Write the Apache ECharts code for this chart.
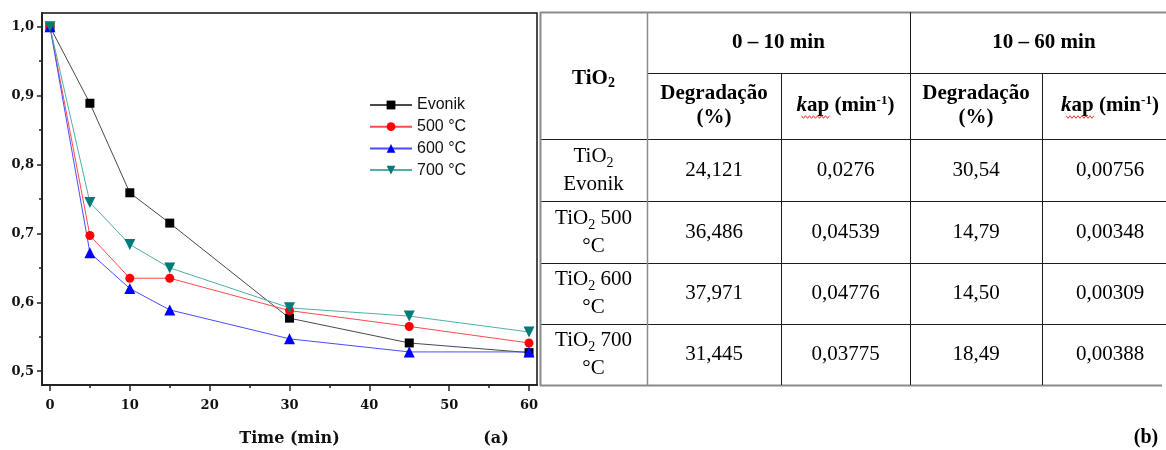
<!DOCTYPE html>
<html>
<head>
<meta charset="utf-8">
<script src="https://cdn.jsdelivr.net/npm/echarts@6/dist/echarts.min.js"></script>
<style>
  html, body { margin: 0; padding: 0; background: #fff; }
  #main { width: 1166px; height: 450px; }
</style>
</head>
<body>
<div id="main"></div>
<script>
// ---- kinetic curves: normalised concentration C/C0 versus irradiation time ----
const timeMin = [0, 5, 10, 15, 30, 45, 60];
const seriesNames = ['Evonik', '500 °C', '600 °C', '700 °C'];
const evonik = [1.000, 0.889, 0.759, 0.715, 0.577, 0.541, 0.527];
const t500   = [1.000, 0.697, 0.635, 0.635, 0.588, 0.565, 0.541];
const t600   = [1.000, 0.672, 0.620, 0.589, 0.547, 0.528, 0.528];
const t700   = [1.000, 0.745, 0.684, 0.650, 0.592, 0.580, 0.557];

const xTickLabels = [0, 10, 20, 30, 40, 50, 60];
const xMinorTicks = [5, 15, 25, 35, 45, 55];
const yTickLabels = [0.5, 0.6, 0.7, 0.8, 0.9, 1.0];
const yMinorTicks = [0.55, 0.65, 0.75, 0.85, 0.95];

// ---- kinetic parameters table ----
const periodHeaders = ['0 – 10 min', '10 – 60 min'];
const rowTail   = ['', ' 500', ' 600', ' 700'];
const rowSecond = ['Evonik', '°C', '°C', '°C'];
const degr010   = ['24,121', '36,486', '37,971', '31,445'];
const kap010    = ['0,0276', '0,04539', '0,04776', '0,03775'];
const degr1060  = ['30,54', '14,79', '14,50', '18,49'];
const kap1060   = ['0,00756', '0,00348', '0,00309', '0,00388'];

// table grid layout (pixels)
const colX = [540, 647, 781, 910, 1042, 1178];
const rowY = [12, 73, 139, 201, 263, 324, 385];
const tableRightVisible = 1166;

const serif = 'Liberation Serif';
const axisFont = { fontFamily: 'DejaVu Serif', fontWeight: 'bold', fontSize: 13, color: '#111' };

const richStyles = {
  h:    { fontFamily: serif, fontWeight: 'bold', fontSize: 21, lineHeight: 24, fill: '#000' },
  hi:   { fontFamily: serif, fontWeight: 'bold', fontStyle: 'italic', fontSize: 21, lineHeight: 24, fill: '#000' },
  hsub: { fontFamily: serif, fontWeight: 'bold', fontSize: 14, lineHeight: 13, verticalAlign: 'bottom', fill: '#000' },
  hsup: { fontFamily: serif, fontWeight: 'bold', fontSize: 13, lineHeight: 14, verticalAlign: 'top', fill: '#000' },
  r:    { fontFamily: serif, fontSize: 21, lineHeight: 28, fill: '#000' },
  rsub: { fontFamily: serif, fontSize: 14, lineHeight: 16, verticalAlign: 'bottom', fill: '#000' }
};

const graphics = [];
function px(v) { return Math.round(v) + 0.5; }
function hLine(x1, x2, y, color, w) {
  graphics.push({ type: 'line', silent: true, z: 10,
    shape: { x1: x1, y1: px(y), x2: x2, y2: px(y) },
    style: { stroke: color, lineWidth: w } });
}
function vLine(x, y1, y2, color, w) {
  graphics.push({ type: 'line', silent: true, z: 10,
    shape: { x1: px(x), y1: y1, x2: px(x), y2: y2 },
    style: { stroke: color, lineWidth: w } });
}
function cellText(cx, cy, text) {
  graphics.push({ type: 'text', silent: true, z: 11, x: cx, y: cy,
    style: { text: text, rich: richStyles, align: 'center', verticalAlign: 'middle', fill: '#000' } });
}
function squiggle(x1, x2, y) {
  const pts = [];
  for (let x = x1, k = 0; x <= x2; x += 2, k++) pts.push([x, y + (k % 2 ? 1.3 : -1.3)]);
  graphics.push({ type: 'polyline', silent: true, z: 12, shape: { points: pts },
    style: { stroke: '#e8302a', lineWidth: 1, fill: null } });
}

// table rules
const outer = '#8a8a8a', inner = '#1c1c1c';
hLine(colX[0], tableRightVisible, rowY[0], outer, 2);
hLine(colX[1], tableRightVisible, rowY[1], inner, 1);
for (let r = 2; r < rowY.length - 1; r++) hLine(colX[0], tableRightVisible, rowY[r], inner, 1);
hLine(colX[0], 1162, rowY[rowY.length - 1], outer, 2);
vLine(colX[0], rowY[0], rowY[rowY.length - 1] + 1, outer, 2);
vLine(colX[1], rowY[0], rowY[rowY.length - 1], outer, 1.5);
vLine(colX[2], rowY[1], rowY[rowY.length - 1], inner, 1);
vLine(colX[3], rowY[0], rowY[rowY.length - 1], inner, 1);
vLine(colX[4], rowY[1], rowY[rowY.length - 1], inner, 1);

function mid(a, b) { return (a + b) / 2; }

// header cells
cellText(mid(colX[0], colX[1]), mid(rowY[0], rowY[2]) + 3, '{h|TiO}{hsub|2}');
cellText(mid(colX[1], colX[3]), mid(rowY[0], rowY[1]), '{h|' + periodHeaders[0] + '}');
cellText(mid(colX[3], colX[5]), mid(rowY[0], rowY[1]), '{h|' + periodHeaders[1] + '}');
[1, 3].forEach(function (c) {
  cellText(mid(colX[c], colX[c + 1]), mid(rowY[1], rowY[2]), '{h|Degradação}\n{h|(%)}');
  const kx = mid(colX[c + 1], colX[c + 2]);
  cellText(kx, mid(rowY[1], rowY[2]), '{hi|k}{h|ap (min}{hsup|-1}{h|)}');
  squiggle(kx - 44, kx - 16, mid(rowY[1], rowY[2]) + 11);
});

// body cells
for (let i = 0; i < rowTail.length; i++) {
  const cy = mid(rowY[i + 2], rowY[i + 3]);
  cellText(mid(colX[0], colX[1]), cy, '{r|TiO}{rsub|2}{r|' + rowTail[i] + '}\n{r|' + rowSecond[i] + '}');
  cellText(mid(colX[1], colX[2]), cy, '{r|' + degr010[i] + '}');
  cellText(mid(colX[2], colX[3]), cy, '{r|' + kap010[i] + '}');
  cellText(mid(colX[3], colX[4]), cy, '{r|' + degr1060[i] + '}');
  cellText(mid(colX[4], colX[5]), cy, '{r|' + kap1060[i] + '}');
}

// panel tags
graphics.push({ type: 'text', silent: true, x: 496, y: 439,
  style: { text: '(a)', fontFamily: 'DejaVu Serif', fontWeight: 'bold', fontSize: 16, fill: '#111', align: 'center', verticalAlign: 'middle' } });
graphics.push({ type: 'text', silent: true, x: 1146, y: 438,
  style: { text: '(b)', fontFamily: serif, fontWeight: 'bold', fontSize: 20, fill: '#000', align: 'center', verticalAlign: 'middle' } });

function makeSeries(name, values, symbol, size, color, lineColor, rotate) {
  return {
    name: name, type: 'line', xAxisIndex: 0, yAxisIndex: 0,
    data: timeMin.map(function (t, i) { return [t, values[i]]; }),
    symbol: symbol, symbolSize: size, symbolRotate: rotate || 0,
    itemStyle: { color: color },
    lineStyle: { color: lineColor, width: 1 },
    emphasis: { disabled: true }
  };
}

const decimalComma = function (v) { return v.toFixed(1).replace('.', ','); };
const tickStyle = { color: '#222', width: 1.5 };

const option = {
  animation: false,
  backgroundColor: '#fff',
  grid: {
    left: 42, right: 629, top: 13, bottom: 65,
    outerBoundsMode: 'none', containLabel: false,
    show: true, borderColor: '#111', borderWidth: 1.5, backgroundColor: '#fff'
  },
  legend: {
    orient: 'vertical', left: 364, top: 92, padding: 5,
    itemWidth: 42, itemHeight: 11, itemGap: 5.7,
    data: seriesNames,
    textStyle: { fontFamily: 'Liberation Sans', fontSize: 16, color: '#111', lineHeight: 16 }
  },
  xAxis: [
    {
      type: 'value', min: -1, max: 61, position: 'bottom',
      name: 'Time (min)', nameLocation: 'middle', nameGap: 46,
      nameTextStyle: { fontFamily: 'DejaVu Serif', fontWeight: 'bold', fontSize: 16, color: '#111' },
      axisLine: { onZero: false, lineStyle: { color: '#222', width: 2 } },
      axisTick: { show: true, customValues: xTickLabels, length: 6, lineStyle: tickStyle },
      axisLabel: Object.assign({ customValues: xTickLabels, margin: 14 }, axisFont),
      splitLine: { show: false }
    },
    {
      type: 'value', min: -1, max: 61, position: 'bottom',
      axisLine: { show: false, onZero: false },
      axisTick: { show: true, customValues: xMinorTicks, length: 3, lineStyle: tickStyle },
      axisLabel: { show: false },
      splitLine: { show: false }
    }
  ],
  yAxis: [
    {
      type: 'value', min: 0.48, max: 1.02, position: 'left',
      axisLine: { show: true, onZero: false, lineStyle: { color: '#222', width: 2 } },
      axisTick: { show: true, customValues: yTickLabels, length: 5, lineStyle: tickStyle },
      axisLabel: Object.assign({ customValues: yTickLabels, margin: 8, formatter: decimalComma }, axisFont),
      splitLine: { show: false }
    },
    {
      type: 'value', min: 0.48, max: 1.02, position: 'left',
      axisLine: { show: false, onZero: false },
      axisTick: { show: true, customValues: yMinorTicks, length: 3, lineStyle: tickStyle },
      axisLabel: { show: false },
      splitLine: { show: false }
    }
  ],
  series: [
    makeSeries(seriesNames[0], evonik, 'rect', 9, '#000000', '#4a4a4a'),
    makeSeries(seriesNames[1], t500, 'circle', 9, '#ff0000', '#ff4a4a'),
    makeSeries(seriesNames[2], t600, 'triangle', 11, '#0000ff', '#4b4bff'),
    makeSeries(seriesNames[3], t700, 'triangle', 11, '#007b78', '#4fb0a8', 180)
  ],
  graphic: { elements: graphics }
};

const chart = echarts.init(document.getElementById('main'), null, { renderer: 'canvas' });
chart.setOption(option);
</script>
</body>
</html>
